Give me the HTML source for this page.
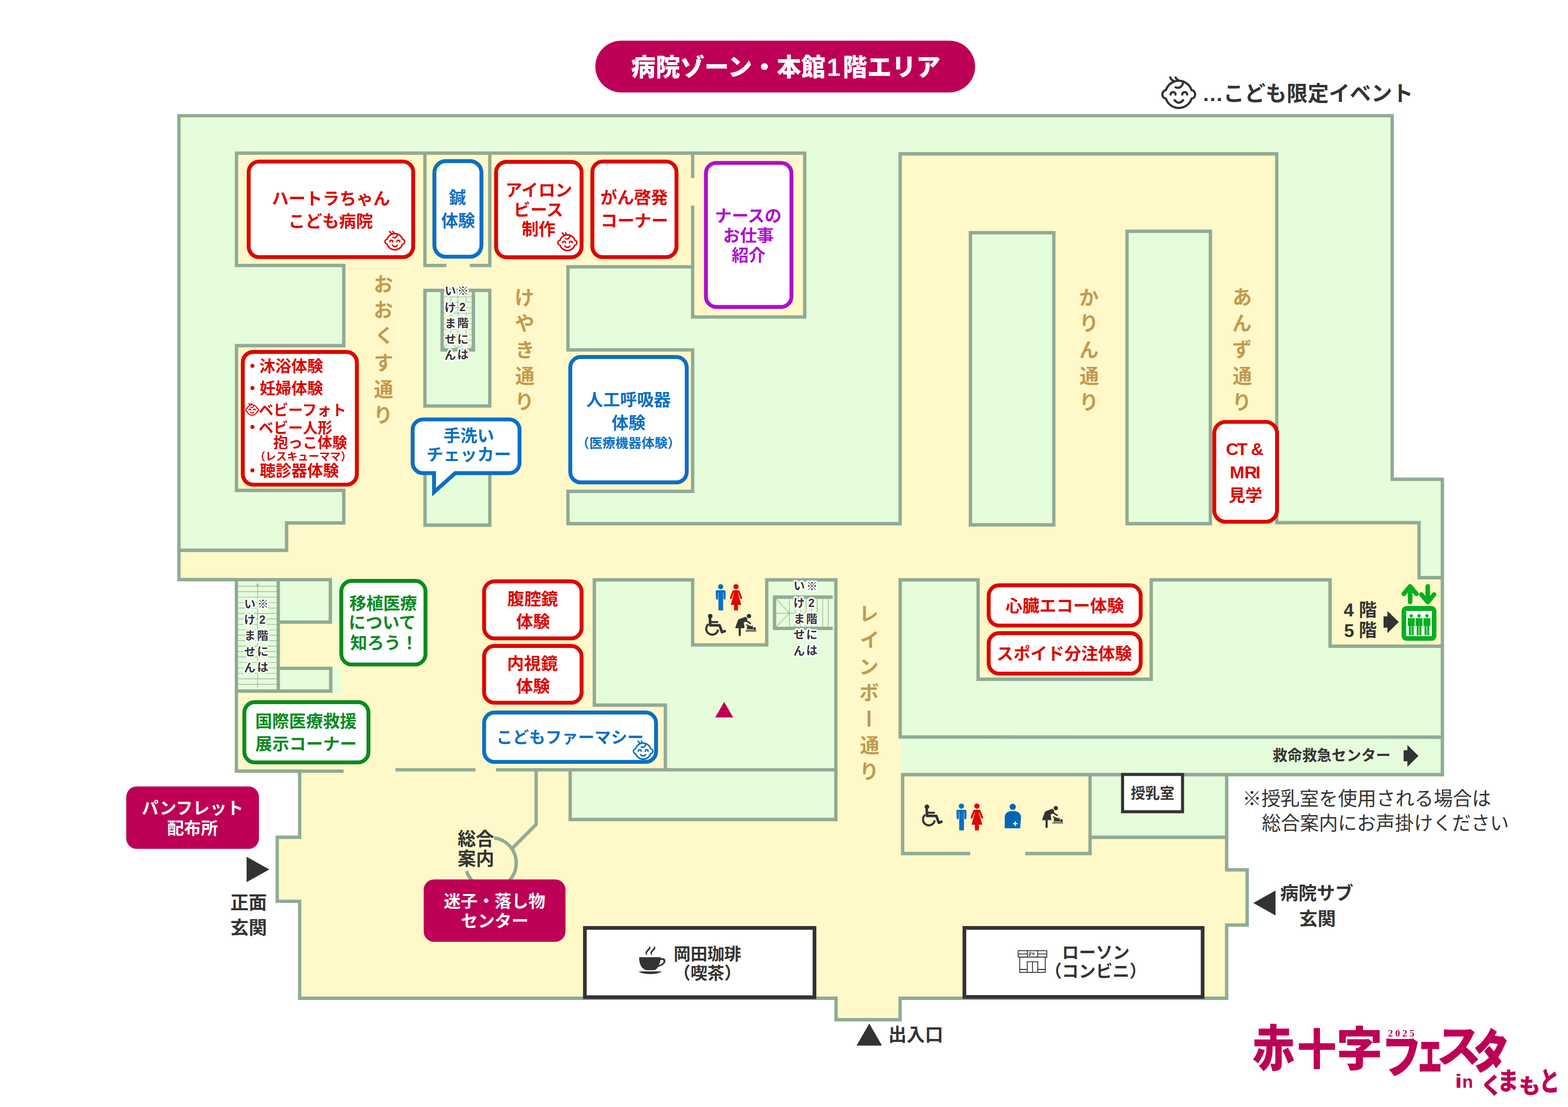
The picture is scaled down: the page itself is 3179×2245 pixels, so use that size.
<!DOCTYPE html>
<html lang="ja"><head><meta charset="utf-8"><title>病院ゾーン・本館1階エリア</title>
<style>html,body{margin:0;padding:0;background:#fff}body{width:3179px;height:2245px;position:relative;overflow:hidden;font-family:"Liberation Sans",sans-serif}
svg{position:absolute;left:0;top:0}
svg{font-family:"Liberation Sans","Noto Sans CJK JP",sans-serif;font-weight:bold}
.t{position:absolute;margin:0;white-space:nowrap;color:transparent;font-weight:bold;line-height:1;transform-origin:0 0}
.v{writing-mode:vertical-rl}
</style></head><body>
<svg width="3179" height="2245" viewBox="0 0 3179 2245">
<g shape-rendering="crispEdges">
<polygon points="362.8,234.7 2822.5,234.7 2822.5,972 2924.3,972 2924.3,1571 2487,1571 2487,1764 2528.5,1764 2528.5,1876 2487,1876 2487,2024.5 1825,2024.5 1825,2068 1695,2068 1695,2024.5 607.5,2024.5 607.5,1827.8 562,1827.8 562,1698 607.5,1698 607.5,1563.9 479.3,1563.9 479.3,1175.5 362.8,1175.5" fill="#e6fddb"/>
<rect x="479.5" y="310.6" width="924.8" height="230.4" fill="#fff8c8"/>
<rect x="1404.3" y="310.6" width="227.2" height="332.2" fill="#fff8c8"/>
<rect x="697" y="538" width="454.5" height="638" fill="#fff8c8"/>
<rect x="479.5" y="701" width="217.5" height="293.5" fill="#fff8c8"/>
<rect x="1151.5" y="709.7" width="252.8" height="286.8" fill="#fff8c8"/>
<rect x="362.8" y="1059.5" width="2514.2" height="116.5" fill="#fff8c8"/>
<rect x="1825" y="312" width="763.5" height="750" fill="#fff8c8"/>
<rect x="2697" y="1171.5" width="227.3" height="139" fill="#fff8c8"/>
<rect x="479.3" y="1175.5" width="725.7" height="388" fill="#fff8c8"/>
<rect x="1205" y="1430" width="144" height="131" fill="#fff8c8"/>
<rect x="607.5" y="1561" width="1879.5" height="463.5" fill="#fff8c8"/>
<rect x="562" y="1698" width="47" height="129.8" fill="#fff8c8"/>
<rect x="2487" y="1764" width="41.5" height="112" fill="#fff8c8"/>
<rect x="1695" y="2024.5" width="130" height="43.5" fill="#fff8c8"/>
<rect x="1695" y="1176" width="130.5" height="424" fill="#fff8c8"/>
<rect x="1404.3" y="1175.5" width="150.2" height="132.3" fill="#fff8c8"/>
<rect x="1983" y="1176" width="351" height="201.5" fill="#fff8c8"/>
<rect x="861.5" y="588.8" width="131.5" height="234.6" fill="#e6fddb"/>
<rect x="861.7" y="930" width="131.3" height="135" fill="#e6fddb"/>
<rect x="362.8" y="1059.5" width="218.2" height="56.5" fill="#e6fddb"/>
<rect x="1151.5" y="996.5" width="673.5" height="65.5" fill="#e6fddb"/>
<rect x="1967.5" y="472" width="169" height="592.5" fill="#e6fddb"/>
<rect x="2285" y="469" width="169" height="593" fill="#e6fddb"/>
<rect x="479.3" y="1175.5" width="190.7" height="86.2" fill="#e6fddb"/>
<rect x="479.3" y="1261.7" width="84.9" height="139.8" fill="#e6fddb"/>
<rect x="564.2" y="1355.3" width="106.3" height="46.2" fill="#e6fddb"/>
<rect x="670" y="1172.5" width="21.5" height="89" fill="#e6fddb"/>
<rect x="670" y="1355.5" width="21.5" height="49.5" fill="#e6fddb"/>
<rect x="1156" y="1561" width="539" height="101" fill="#e6fddb"/>
<rect x="2210" y="1571" width="277" height="127" fill="#e6fddb"/>
<rect x="1825.5" y="1498" width="661.5" height="73" fill="#e6fddb"/>
</g>
<g fill="none" stroke="#90ab95" stroke-width="6.8" stroke-linejoin="miter" stroke-linecap="butt">
<polygon points="362.8,234.7 2822.5,234.7 2822.5,972 2924.3,972 2924.3,1571 2487,1571 2487,1764 2528.5,1764 2528.5,1876 2487,1876 2487,2024.5 1825,2024.5 1825,2068 1695,2068 1695,2024.5 607.5,2024.5 607.5,1827.8 562,1827.8 562,1698 607.5,1698 607.5,1563.9 479.3,1563.9 479.3,1175.5 362.8,1175.5"/>
<polyline points="1404.3,361 1404.3,310.6 479.5,310.6 479.5,538.3 697,538.3 697,701 479.5,701 479.5,994.5 697,994.5 697,1060.5 581,1060.5 581,1116 362.8,1116"/>
<polyline points="1404.3,310.6 1631.5,310.6 1631.5,642.8 1404.3,642.8 1404.3,417"/>
<polyline points="861.5,310.6 861.5,538.3 905,538.3"/>
<polyline points="952.5,538.3 993,538.3 993,310.6"/>
<polygon points="861.5,588.8 993,588.8 993,823.4 861.5,823.4"/>
<polyline points="896.4,588.8 896.4,709.5 959.8,709.5 959.8,588.8"/>
<polyline points="861.7,940 861.7,1065 993,1065 993,940"/>
<polyline points="1404.3,541.1 1151.5,541.1 1151.5,709.7 1404.3,709.7 1404.3,996.5 1151.5,996.5 1151.5,1062 1825,1062 1825,312 2588.5,312 2588.5,1060 2877,1060 2877,1171.5 2924.3,1171.5"/>
<polygon points="1967.5,472 2136.5,472 2136.5,1064.5 1967.5,1064.5"/>
<polygon points="2285,469 2454,469 2454,1062 2285,1062"/>
<polyline points="479.3,1175.7 669.8,1175.7 669.8,1261.7 564.2,1261.7"/>
<polyline points="564.2,1175.7 564.2,1401.5"/>
<polyline points="564.2,1355.3 670.5,1355.3 670.5,1401.5 479.3,1401.5"/>
<polyline points="479.3,1563.9 696.7,1563.9"/>
<polyline points="801.8,1561.2 964,1561.2"/>
<polyline points="1005.6,1561.2 1156,1561.2"/>
<polyline points="1087,1561.2 1087,1672 1038.5,1720.5"/>
<polyline points="1349,1561.2 1349,1430 1205,1430 1205,1176 1404.3,1176 1404.3,1307.8 1554.5,1307.8 1554.5,1176 1694.7,1176 1694.7,1662 1156,1662 1156,1561.2 1694.7,1561.2"/>
<polyline points="1688.3,1211 1570.3,1211 1570.3,1274.3 1688.3,1274.3"/>
<polyline points="2924.3,1495 1825,1494.7 1825,1176 1983,1176 1983,1377.5 2334,1377.5 2334,1176 2696.6,1176 2696.6,1310.5 2924.3,1310.5"/>
<polyline points="1967,1731 1830,1731 1830,1571 2490,1571"/>
<polyline points="2078.5,1731 2210,1731 2210,1571"/>
<polyline points="2210,1698 2487,1698"/>
<path d="M1001.75,1699.2 A51.7,51.7 0 1 1 945.8,1766.5"/>
</g>
<g fill="none" stroke="#90ab95" stroke-width="1.15">
<path d="M482.5,1188.9 H561 M482.5,1199.9 H561 M482.5,1211 H561 M482.5,1222 H561 M482.5,1233.1 H561 M482.5,1244.1 H561 M482.5,1255.1 H561 M482.5,1266.2 H561 M482.5,1277.2 H561 M482.5,1288.3 H561 M482.5,1299.3 H561 M482.5,1310.3 H561 M482.5,1321.4 H561 M482.5,1332.4 H561 M482.5,1343.5 H561 M482.5,1354.5 H561 M482.5,1365.5 H561 M482.5,1376.6 H561 M482.5,1387.6 H561 M522.4,1394.5 V1184 M519.2,1188.5 L522.4,1183.5 L525.6,1188.5 M899.4,602 H957.1 M899.4,613 H957.1 M899.4,624 H957.1 M899.4,635 H957.1 M899.4,646 H957.1 M899.4,657 H957.1 M899.4,668 H957.1 M899.4,679 H957.1 M899.4,690 H957.1 M928.4,592 V706 M914.1,602 V613 M944.8,602 V613 M914.1,635 V646 M944.8,635 V646 M914.1,668 V679 M944.8,668 V679 M899.4,705.8 L906.5,697.5 M957.1,705.8 L950,697.5 M920.5,697.5 A8,8 0 0 0 936.5,697.5 M1600.5,1214.4 V1271 M1611.7,1214.4 V1271 M1623,1214.4 V1271 M1634.2,1214.4 V1271 M1645.5,1214.4 V1271 M1656.7,1214.4 V1271 M1667.9,1214.4 V1271 M1679.2,1214.4 V1271 M1573.7,1243.6 H1660 M1573.7,1214.4 L1600.5,1243.6 L1573.7,1271"/>
</g>
<rect x="504.2" y="327.6" width="333.5" height="193.8" rx="21.1" fill="#fff" stroke="#dc0500" stroke-width="7.9"/>
<rect x="880.7" y="326.8" width="95.4" height="193.8" rx="23.1" fill="#fff" stroke="#0a6fc5" stroke-width="7.9"/>
<rect x="1005.8" y="328.2" width="173.3" height="193.5" rx="21.1" fill="#fff" stroke="#dc0500" stroke-width="7.9"/>
<rect x="1201" y="327.6" width="170.5" height="193.8" rx="21.1" fill="#fff" stroke="#dc0500" stroke-width="7.9"/>
<rect x="1431.2" y="330.4" width="173.4" height="292.1" rx="21.1" fill="#fff" stroke="#ae0dcf" stroke-width="7.9"/>
<rect x="492.3" y="713.7" width="231.2" height="269.2" rx="21.1" fill="#fff" stroke="#dc0500" stroke-width="7.9"/>
<rect x="1156.2" y="724" width="236.1" height="254.3" rx="21.1" fill="#fff" stroke="#0a6fc5" stroke-width="7.9"/>
<rect x="2461.8" y="855.6" width="127.3" height="202.5" rx="23.1" fill="#fff" stroke="#dc0500" stroke-width="7.9"/>
<rect x="2004.5" y="1187" width="308.1" height="81.6" rx="21.1" fill="#fff" stroke="#dc0500" stroke-width="7.9"/>
<rect x="2004.5" y="1284" width="308.1" height="82.1" rx="21.1" fill="#fff" stroke="#dc0500" stroke-width="7.9"/>
<rect x="692" y="1178" width="170.6" height="169.6" rx="21.1" fill="#fff" stroke="#0b8a1f" stroke-width="7.9"/>
<rect x="981.5" y="1179" width="197.6" height="115.6" rx="21.1" fill="#fff" stroke="#dc0500" stroke-width="7.9"/>
<rect x="981.5" y="1310" width="197.6" height="115.1" rx="21.1" fill="#fff" stroke="#dc0500" stroke-width="7.9"/>
<rect x="981.5" y="1445" width="348.6" height="100.1" rx="21.1" fill="#fff" stroke="#0a6fc5" stroke-width="7.9"/>
<rect x="495.4" y="1424" width="251.6" height="122.1" rx="21.1" fill="#fff" stroke="#0b8a1f" stroke-width="7.9"/>
<path d="M857.6,850.6 H1032.3 A21,21 0 0 1 1053.3,871.6 V938.5 A21,21 0 0 1 1032.3,959.5 H922.9 L880,997.9 V959.5 H857.6 A21,21 0 0 1 836.6,938.5 V871.6 A21,21 0 0 1 857.6,850.6 Z" fill="#fff" stroke="#0a6fc5" stroke-width="7.9" stroke-linejoin="miter"/>
<rect x="1207" y="82.5" width="770" height="105" rx="52.5" fill="#bd0055"/>
<rect x="256" y="1595" width="269" height="126.5" rx="21" fill="#bd0055"/>
<rect x="859" y="1783.5" width="287.5" height="126.5" rx="21" fill="#bd0055"/>
<rect x="1185.8" y="1881.8" width="465.5" height="140.5" fill="#fff" stroke="#333333" stroke-width="7.5"/>
<rect x="1955.2" y="1881.8" width="483" height="140" fill="#fff" stroke="#333333" stroke-width="7.5"/>
<rect x="2275.9" y="1570.6" width="121.6" height="75.6" fill="#fff" stroke="#333333" stroke-width="6.2"/>
<path transform="translate(2353.9,154.7) scale(1.0000)" d="M9.96,28.05 A27.3,27.3 0 0 1 61.9,28.05 A7.9,8.7 0 0 1 61.9,45.4 A27.3,27.3 0 0 1 9.96,45.4 A7.9,8.7 0 0 1 9.96,28.05 Z M44.6,11.3 C44.3,19.7 38,26 29.6,22.3 M18.6,2.4 Q20.7,7.6 26.5,10 M29.6,2.4 Q31.2,7.1 37,8.9 M19.4,37 A5,5 0 0 1 29.4,37 M43,37 A5,5 0 0 1 53,37 M27.5,48.5 Q36.2,58.5 44.8,48.5" fill="none" stroke="#333333" stroke-width="4.5" stroke-linecap="round" stroke-linejoin="round"/>
<path transform="translate(779,468.2) scale(0.5964)" d="M9.96,28.05 A27.3,27.3 0 0 1 61.9,28.05 A7.9,8.7 0 0 1 61.9,45.4 A27.3,27.3 0 0 1 9.96,45.4 A7.9,8.7 0 0 1 9.96,28.05 Z M44.6,11.3 C44.3,19.7 38,26 29.6,22.3 M18.6,2.4 Q20.7,7.6 26.5,10 M29.6,2.4 Q31.2,7.1 37,8.9 M19.4,37 A5,5 0 0 1 29.4,37 M43,37 A5,5 0 0 1 53,37 M27.5,48.5 Q36.2,58.5 44.8,48.5" fill="none" stroke="#dc0500" stroke-width="5" stroke-linecap="round" stroke-linejoin="round"/>
<path transform="translate(1129.6,471) scale(0.5770)" d="M9.96,28.05 A27.3,27.3 0 0 1 61.9,28.05 A7.9,8.7 0 0 1 61.9,45.4 A27.3,27.3 0 0 1 9.96,45.4 A7.9,8.7 0 0 1 9.96,28.05 Z M44.6,11.3 C44.3,19.7 38,26 29.6,22.3 M18.6,2.4 Q20.7,7.6 26.5,10 M29.6,2.4 Q31.2,7.1 37,8.9 M19.4,37 A5,5 0 0 1 29.4,37 M43,37 A5,5 0 0 1 53,37 M27.5,48.5 Q36.2,58.5 44.8,48.5" fill="none" stroke="#dc0500" stroke-width="5.2" stroke-linecap="round" stroke-linejoin="round"/>
<path transform="translate(497.5,817.5) scale(0.3814)" d="M9.96,28.05 A27.3,27.3 0 0 1 61.9,28.05 A7.9,8.7 0 0 1 61.9,45.4 A27.3,27.3 0 0 1 9.96,45.4 A7.9,8.7 0 0 1 9.96,28.05 Z M44.6,11.3 C44.3,19.7 38,26 29.6,22.3 M18.6,2.4 Q20.7,7.6 26.5,10 M29.6,2.4 Q31.2,7.1 37,8.9 M19.4,37 A5,5 0 0 1 29.4,37 M43,37 A5,5 0 0 1 53,37 M27.5,48.5 Q36.2,58.5 44.8,48.5" fill="none" stroke="#dc0500" stroke-width="5.8" stroke-linecap="round" stroke-linejoin="round"/>
<path transform="translate(1282.7,1501.7) scale(0.5895)" d="M9.96,28.05 A27.3,27.3 0 0 1 61.9,28.05 A7.9,8.7 0 0 1 61.9,45.4 A27.3,27.3 0 0 1 9.96,45.4 A7.9,8.7 0 0 1 9.96,28.05 Z M44.6,11.3 C44.3,19.7 38,26 29.6,22.3 M18.6,2.4 Q20.7,7.6 26.5,10 M29.6,2.4 Q31.2,7.1 37,8.9 M19.4,37 A5,5 0 0 1 29.4,37 M43,37 A5,5 0 0 1 53,37 M27.5,48.5 Q36.2,58.5 44.8,48.5" fill="none" stroke="#0a6fc5" stroke-width="5.1" stroke-linecap="round" stroke-linejoin="round"/>
<polygon points="500,1737.5 546,1763.2 500,1789" fill="#333333"/>
<polygon points="2586,1806 2541,1831.2 2586,1856.5" fill="#333333"/>
<polygon points="1762.4,2075.7 1788.2,2120.6 1736.6,2120.6" fill="#333333"/>
<polygon points="1468.2,1423.5 1486.5,1455 1450,1455" fill="#bd0055"/>
<polygon points="2805,1250 2812.9,1250 2812.9,1239 2835.9,1261.5 2812.9,1283.9 2812.9,1273 2805,1273" fill="#333333"/>
<polygon points="2845.7,1521.6 2853.4,1521.6 2853.4,1510.8 2875.8,1533 2853.4,1555.3 2853.4,1543.8 2845.7,1543.8" fill="#333333"/>
<g transform="translate(1461,1189.8) scale(1.0)" fill="#0a6fc5"><circle r="5.3"/><path d="M-10,10.2 a3,3 0 0 1 3,-3 h14 a3,3 0 0 1 3,3 v14 a2.1,2.1 0 0 1 -4.2,0 v-12.5 h-0.7 v35.4 a1.2,1.2 0 0 1 -1.2,1.2 h-3.2 a0.6,0.6 0 0 1 -0.35,-0.2 a0.6,0.6 0 0 1 -0.35,0.2 h-3.2 a1.2,1.2 0 0 1 -1.2,-1.2 v-35.4 h-0.7 v12.5 a2.1,2.1 0 0 1 -4.2,0 z"/></g>
<g transform="translate(1492.2,1189.8) scale(1.0)" fill="#dc0500"><circle r="5.3"/><path d="M-4.6,7.2 h9.2 a3,3 0 0 1 2.8,2 l5,13 a2,2 0 0 1 -3.8,1.4 l-4.3,-11.3 h-0.6 l7,24.7 h-6.7 v10.3 a1,1 0 0 1 -1,1 h-6 a1,1 0 0 1 -1,-1 v-10.3 h-6.7 l7,-24.7 h-0.6 l-4.3,11.3 a2,2 0 0 1 -3.8,-1.4 l5,-13 a3,3 0 0 1 2.8,-2 z"/></g>
<g transform="translate(1439.9,1249.6)" fill="none" stroke="#333333" stroke-linecap="round" stroke-linejoin="round"><circle r="4.7" fill="#333333" stroke="none"/><path d="M-0.5,3 L0,18.5 H19 L24,32.5 L29.5,30.3" stroke-width="5.2"/><path d="M0.5,12 H14.5" stroke-width="4"/><path d="M-4.6,17.2 A12,12 0 1 0 15.5,29" stroke-width="4.2"/></g>
<g transform="translate(1518.5,1249.4)" fill="#333333" stroke="#333333" stroke-linecap="round" stroke-linejoin="round"><circle r="4.4" stroke="none"/><path d="M-6.5,2 L-3.5,5.5 L-4.5,9.5 L-11,13 L-9.5,24 H-27.5 L-21.5,7.5 Z" stroke-width="1"/><path d="M-18.7,24 V38.5" stroke-width="4.2" fill="none"/><path d="M-5.5,9.5 L2.8,15" stroke-width="3" fill="none"/><path d="M-5,17.8 L1,20.6 M6.5,20.5 L7.2,25.5" stroke-width="2.4" fill="none"/><path d="M-3.5,21.5 q4.5,-2.5 8,0 l3.5,4.5 h-11.5 z" stroke-width="1.2"/><circle cx="11.4" cy="25.1" r="2.6" stroke="none"/><path d="M-5.5,28.4 H14 M-6.8,30.6 H14.3" stroke-width="1.3" fill="none"/></g>
<g transform="translate(1949.2,1634.8) scale(1.02)" fill="#0a6fc5"><circle r="5.3"/><path d="M-10,10.2 a3,3 0 0 1 3,-3 h14 a3,3 0 0 1 3,3 v14 a2.1,2.1 0 0 1 -4.2,0 v-12.5 h-0.7 v35.4 a1.2,1.2 0 0 1 -1.2,1.2 h-3.2 a0.6,0.6 0 0 1 -0.35,-0.2 a0.6,0.6 0 0 1 -0.35,0.2 h-3.2 a1.2,1.2 0 0 1 -1.2,-1.2 v-35.4 h-0.7 v12.5 a2.1,2.1 0 0 1 -4.2,0 z"/></g>
<g transform="translate(1980.6,1634.8) scale(1.02)" fill="#dc0500"><circle r="5.3"/><path d="M-4.6,7.2 h9.2 a3,3 0 0 1 2.8,2 l5,13 a2,2 0 0 1 -3.8,1.4 l-4.3,-11.3 h-0.6 l7,24.7 h-6.7 v10.3 a1,1 0 0 1 -1,1 h-6 a1,1 0 0 1 -1,-1 v-10.3 h-6.7 l7,-24.7 h-0.6 l-4.3,11.3 a2,2 0 0 1 -3.8,-1.4 l5,-13 a3,3 0 0 1 2.8,-2 z"/></g>
<g transform="translate(1879.3,1636.2)" fill="none" stroke="#333333" stroke-linecap="round" stroke-linejoin="round"><circle r="4.7" fill="#333333" stroke="none"/><path d="M-0.5,3 L0,18.5 H19 L24,32.5 L29.5,30.3" stroke-width="5.2"/><path d="M0.5,12 H14.5" stroke-width="4"/><path d="M-4.6,17.2 A12,12 0 1 0 15.5,29" stroke-width="4.2"/></g>
<g transform="translate(2140.6,1638.8)" fill="#333333" stroke="#333333" stroke-linecap="round" stroke-linejoin="round"><circle r="4.4" stroke="none"/><path d="M-6.5,2 L-3.5,5.5 L-4.5,9.5 L-11,13 L-9.5,24 H-27.5 L-21.5,7.5 Z" stroke-width="1"/><path d="M-18.7,24 V38.5" stroke-width="4.2" fill="none"/><path d="M-5.5,9.5 L2.8,15" stroke-width="3" fill="none"/><path d="M-5,17.8 L1,20.6 M6.5,20.5 L7.2,25.5" stroke-width="2.4" fill="none"/><path d="M-3.5,21.5 q4.5,-2.5 8,0 l3.5,4.5 h-11.5 z" stroke-width="1.2"/><circle cx="11.4" cy="25.1" r="2.6" stroke="none"/><path d="M-5.5,28.4 H14 M-6.8,30.6 H14.3" stroke-width="1.3" fill="none"/></g>
<g transform="translate(2053.2,1636.2)"><circle r="6.3" fill="#0067b8"/><path d="M-16.2,43.5 L-16.2,22 Q-16.2,8.6 0,8.6 Q16.8,8.6 16.8,22 L15,43.5 Z" fill="#0067b8"/><path d="M5.2,29.5 V38.5 M0.7,34 H9.7" stroke="#fff" stroke-width="2.6" fill="none"/></g>
<g><rect x="2841.6" y="1229" width="70.6" height="70.6" rx="10" fill="#00b01e"/><rect x="2851" y="1239" width="52" height="51" fill="#fff"/>
<circle cx="2861.2" cy="1248.9" r="3.3" fill="#00b01e"/><path d="M2854.1,1254.3 a0.8,0.8 0 0 1 0.8,-0.8 h12.6 a0.8,0.8 0 0 1 0.8,0.8 v15 h-2.3 v18.3 a1,1 0 0 1 -1,1 h-2.2 a1,1 0 0 1 -1,-1 v-18.3 h-1.2 v18.3 a1,1 0 0 1 -1,1 h-2.2 a1,1 0 0 1 -1,-1 v-18.3 h-2.3 z" fill="#00b01e"/>
<circle cx="2877" cy="1248.9" r="3.3" fill="#00b01e"/><path d="M2869.9,1254.3 a0.8,0.8 0 0 1 0.8,-0.8 h12.6 a0.8,0.8 0 0 1 0.8,0.8 v15 h-2.3 v18.3 a1,1 0 0 1 -1,1 h-2.2 a1,1 0 0 1 -1,-1 v-18.3 h-1.2 v18.3 a1,1 0 0 1 -1,1 h-2.2 a1,1 0 0 1 -1,-1 v-18.3 h-2.3 z" fill="#00b01e"/>
<circle cx="2892.9" cy="1248.9" r="3.3" fill="#00b01e"/><path d="M2885.8,1254.3 a0.8,0.8 0 0 1 0.8,-0.8 h12.6 a0.8,0.8 0 0 1 0.8,0.8 v15 h-2.3 v18.3 a1,1 0 0 1 -1,1 h-2.2 a1,1 0 0 1 -1,-1 v-18.3 h-1.2 v18.3 a1,1 0 0 1 -1,1 h-2.2 a1,1 0 0 1 -1,-1 v-18.3 h-2.3 z" fill="#00b01e"/>
<path d="M2858.9,1221 V1189.5 M2846,1204.5 L2858.9,1189 L2871.8,1204.5 M2894.6,1189 V1221 M2881.6,1205.5 L2894.6,1221 L2907.6,1205.5" fill="none" stroke="#00b01e" stroke-width="9.2" stroke-linecap="round" stroke-linejoin="round"/></g>
<g fill="#333333"><path d="M1295.7,1941.3 H1340 v2.2 q9,-1.6 9,5 q0,8.5 -15,12.7 q-4,6.2 -9,6.2 h-15 q-14,-4 -14.3,-26.1 z M1339,1947 q-0.6,5.5 -3,10.5 q9,-3.5 9.2,-8.3 q0,-3 -6.2,-2.2 z" fill-rule="evenodd"/><path d="M1294.6,1970 H1341.7 q-6,5.4 -23.5,5.4 q-17.500,0 -23.6,-5.4 z"/><path d="M1316.300,1917.800 q5.5,5 -1.5,10.500 q-5,4.500 -2.500,9.700 q-7,-5 -0.500,-11.500 q5.500,-4.700 4.500,-8.700 z M1326.300,1917.800 q5.5,5 -1.5,10.500 q-5,4.500 -2.500,9.700 q-7,-5 -0.500,-11.500 q5.500,-4.700 4.500,-8.700 z"/></g>
<g fill="none" stroke="#333333" stroke-width="1.8"><rect x="2064.3" y="1928" width="58" height="13"/><path d="M2064.3,1934.7 H2083 M2103.700,1934.700 H2122.300 M2083,1928 V1941 M2103.700,1928 V1941"/><rect x="2067.4" y="1941" width="51.800" height="31"/><path d="M2082.700,1972 V1950.300 H2104 V1972 M2093.300,1950.300 V1972 M2067.400,1966 H2082.700 M2104,1966 H2119.200"/><path d="M2086.500,1931.500 h3.300 v3 h-3.300 v3 h3.300 M2093,1931.500 v3 h3.300 M2096.300,1931.500 v6" stroke-width="1.400"/></g>
<text fill="#fff" font-size="49.6" font-weight="900" y="154.4"><tspan x="1279.6">病院ゾーン・本館</tspan><tspan x="1676.4">1</tspan><tspan x="1708.6">階エリア</tspan></text>
<text fill="#333333" font-size="42.8" x="2437.3" y="204.5">…こども限定イベント</text>
<g fill="#dc0500" font-size="34.3">
<text x="551" y="414.5">ハートラちゃん</text>
<text x="584.6" y="460.8">こども病院</text>
</g>
<g fill="#0a6fc5" font-size="34.3">
<text x="910.2" y="412.9">鍼</text>
<text x="894.4" y="460">体験</text>
</g>
<g fill="#dc0500" font-size="34.3">
<text x="1024.5" y="397.7">アイロン</text>
<text x="1040.9" y="438.1">ビース</text>
<text x="1057.7" y="477.2">制作</text>
<text x="1216.9" y="413.4">がん啓発</text>
<text x="1217.6" y="460.4">コーナー</text>
</g>
<g fill="#ae0dcf" font-size="34.3">
<text x="1449.2" y="449.6">ナースの</text>
<text x="1466" y="490.1">お仕事</text>
<text x="1483.5" y="529.8">紹介</text>
</g>
<g fill="#c2994f" font-size="39.3">
<text x="757.4 757.4 759.7 757.9 757.9 757.1" y="591 643 695.2 749.9 804.1 856.4">おおくす通り</text>
<text x="1043.4 1043.9 1044.4 1044.4 1043.6" y="618.2 670.2 723.6 777.1 828.9">けやき通り</text>
<text x="2187.9 2187.9 2188 2188.7 2187.9" y="618.1 669.9 723.5 777.1 829.9">かりん通り</text>
<text x="2498.8 2498.2 2498.3 2498.9 2498.1" y="616.6 669.5 722.9 777.1 829.9">あんず通り</text>
<text x="1741.8 1743.4 1741.7 1742.3" y="1259.1 1312.2 1366.6 1419">レインボ</text>
<text transform="translate(1763,1457.5) rotate(90) scale(1,-1)" x="-19.65" y="14.15">ー</text>
<text x="1743.4 1742.6" y="1526.1 1578.9">通り</text>
</g>
<g fill="#333333" stroke="#fff" stroke-width="6.2" stroke-linejoin="round" paint-order="stroke" font-size="23">
<text x="927.2 931.3 926.9 927.1 927" y="598.2 630.9 663.3 695.5 727.1">※2階には</text>
<text x="901.4 901.2 901.7 901.7 901.3" y="598.1 631.6 663.5 695.8 727.7">いけません</text>
<text x="521.4 525.5 521.1 521.3 521.2" y="1232.9 1264.9 1297.2 1329.2 1361.3">※2階には</text>
<text x="494.9 494.7 495.2 495.2 494.8" y="1232.6 1265 1297.1 1329.5 1361.6">いけません</text>
<text x="1634.6 1638.7 1634.3 1634.5 1634.4" y="1197.4 1230.9 1263 1295.2 1327.4">※2階には</text>
<text x="1608.8 1608.6 1609.1 1609.1 1608.7" y="1195.8 1230.8 1263.2 1295.2 1328.1">いけません</text>
</g>
<g fill="#dc0500">
<text x="525.9" y="754.3" font-size="32.3">沐浴体験</text>
<text x="526.4" y="799.1" font-size="32.15">妊婦体験</text>
<text x="524.5" y="841.6" font-size="29.9">ベビーフォト</text>
<text x="524.5" y="878" font-size="29.9">ベビー人形</text>
<text x="554.1" y="907.9" font-size="29.9">抱っこ体験</text>
<text x="516.2" y="933.4" font-size="21.85">（レスキューママ）</text>
<text x="526.6" y="965.7" font-size="32.1">聴診器体験</text>
<text x="495.8" y="754" font-size="32">・</text>
<text x="495.8" y="799" font-size="32">・</text>
<text x="495.8" y="878" font-size="32">・</text>
<text x="495.8" y="965.5" font-size="32">・</text>
</g>
<g fill="#0a6fc5" font-size="34.3">
<text x="898.9" y="896.1">手洗い</text>
<text x="864.5" y="934.4">チェッカー</text>
<text x="1188.4" y="822.5">人工呼吸器</text>
<text x="1239.9" y="869.5">体験</text>
<text x="1168.3" y="908.1" font-size="26.45">（医療機器体験）</text>
</g>
<g fill="#dc0500">
<text x="2485.4 2507.8" y="922.7" font-size="35.25">CT</text>
<text x="2536.3" y="922.8" font-size="35.45">&amp;</text>
<text x="2493.3 2523.1 2545.7" y="970.2" font-size="35.6">MRI</text>
<text x="2490.7" y="1016.8" font-size="34.3">見学</text>
<text x="2038.6" y="1241.2" font-size="34.3">心臓エコー体験</text>
<text x="2020.5" y="1337.8" font-size="34.3">スポイド分注体験</text>
</g>
<g fill="#333333" font-size="36.7">
<text x="2724.3" y="1250.4">4</text>
<text x="2754.7" y="1249.6">階</text>
<text x="2725.1" y="1292.2">5</text>
<text x="2754.7" y="1291.4">階</text>
<text x="2580" y="1542.3" font-size="29.95">救命救急センター</text>
</g>
<g fill="#0b8a1f" font-size="34.3">
<text x="708.4" y="1236">移植医療</text>
<text x="707" y="1275.3">について</text>
<text x="710.2" y="1315.5">知ろう！</text>
</g>
<g fill="#dc0500" font-size="34.3">
<text x="1028.5" y="1227.3">腹腔鏡</text>
<text x="1046.4" y="1273">体験</text>
<text x="1028" y="1358.2">内視鏡</text>
<text x="1046.4" y="1404.3">体験</text>
</g>
<text fill="#0a6fc5" font-size="33.2" x="1006.2" y="1507.1">こどもファーマシー</text>
<g fill="#0b8a1f" font-size="34.3">
<text x="517.5" y="1474.5">国際医療救援</text>
<text x="517.6" y="1521.1">展示コーナー</text>
</g>
<g fill="#fff" font-size="34.3">
<text x="287.3" y="1651.1">パンフレット</text>
<text x="338.8" y="1691.7">配布所</text>
</g>
<g fill="#333333" font-size="37.1">
<text x="927.7" y="1714.6">総合</text>
<text x="927.8" y="1755.2">案内</text>
</g>
<g fill="#fff" font-size="34.3">
<text x="899.8" y="1840.1">迷子・落し物</text>
<text x="934.4" y="1880.2">センター</text>
</g>
<g fill="#333333" font-size="37.1">
<text x="466.9" y="1843.9">正面</text>
<text x="467.1" y="1895.4">玄関</text>
<text x="1801" y="2112.4">出入口</text>
</g>
<g fill="#333333" font-size="34.3">
<text x="1365.7" y="1947.1">岡田珈琲</text>
<text x="1365.7" y="1985.8">（喫茶）</text>
<text x="2153.1" y="1943.5">ローソン</text>
<text x="2118.5" y="1981.9">（コンビニ）</text>
<text x="2292.5" y="1618.9" font-size="29.5">授乳室</text>
</g>
<g fill="#333333" font-weight="normal">
<text x="2518.7" y="1633.2" font-size="38.8">※授乳室を使用される場合は</text>
<text x="2558.3" y="1683.3" font-size="38.55">総合案内にお声掛けください</text>
</g>
<g fill="#333333" font-size="37.1">
<text x="2595.5" y="1825.1">病院サブ</text>
<text x="2634.1" y="1876.7">玄関</text>
</g>
<g fill="#bd0055" font-size="250" font-weight="900">
<text transform="translate(2540.7,2079) scale(0.3413,0.4022)" x="-4" y="206.5">赤</text>
<text transform="translate(2632.9,2087.9) scale(0.3193,0.3499)" x="-9.8" y="206.5">十</text>
<text transform="translate(2713.7,2081) scale(0.3741,0.3832)" x="-11" y="211.5">字</text>
<text transform="translate(2803.2,2109.7) scale(0.3268,0.3817)" x="-7.5" y="175.2">フ</text>
<text transform="translate(2871.9,2123) scale(0.2325,0.4133)" x="-7.5" y="113">ェ</text>
<text transform="translate(2914.5,2090.7) scale(0.3665,0.3560)" x="-7.5" y="178.8">ス</text>
<text stroke="#bd0055" stroke-width="6" stroke-linejoin="round" transform="rotate(8,3015.1,2131.2) translate(2990.1,2088.2) scale(0.2736,0.3914)" x="-7.5" y="204.8">タ</text>
<text transform="translate(2952.2,2176.8) scale(0.2163,0.1559)" x="-12.5" y="190">i</text>
<text transform="translate(2965.5,2187) scale(0.1443,0.1376)" x="-7.5" y="141.2">n</text>
<text transform="translate(3002.2,2180.1) scale(0.1782,0.1877)" x="-2.5" y="201.8">く</text>
<text transform="translate(3037.4,2170.1) scale(0.1723,0.2010)" x="-7.5" y="200">ま</text>
<text transform="translate(3080.5,2182.5) scale(0.1755,0.1745)" x="-7.5" y="204.2">も</text>
<text transform="translate(3122.7,2169.3) scale(0.1659,0.2171)" x="-12.5" y="194.5">と</text>
</g>
<text fill="#bd0055" font-family="'Liberation Serif','Noto Serif CJK SC',serif" font-size="19.5" x="2814.3 2828.8 2843.3 2857.8" y="2102.3">2025</text>
</svg>
<div class="t" style="left:1279.6px;top:110.7px;font-size:49.6px">病院ゾーン・本館1階エリア</div>
<div class="t" style="left:2437.3px;top:166.8px;font-size:42.8px">…こども限定イベント</div>
<div class="t" style="left:551px;top:384.3px;font-size:34.3px">ハートラちゃん</div>
<div class="t" style="left:584.6px;top:430.6px;font-size:34.3px">こども病院</div>
<div class="t" style="left:910.2px;top:382.7px;font-size:34.3px">鍼</div>
<div class="t" style="left:894.4px;top:429.8px;font-size:34.3px">体験</div>
<div class="t" style="left:1024.5px;top:367.5px;font-size:34.3px">アイロン</div>
<div class="t" style="left:1040.9px;top:407.9px;font-size:34.3px">ビース</div>
<div class="t" style="left:1057.7px;top:447px;font-size:34.3px">制作</div>
<div class="t" style="left:1216.9px;top:383.2px;font-size:34.3px">がん啓発</div>
<div class="t" style="left:1217.6px;top:430.2px;font-size:34.3px">コーナー</div>
<div class="t" style="left:1449.2px;top:419.4px;font-size:34.3px">ナースの</div>
<div class="t" style="left:1466px;top:459.9px;font-size:34.3px">お仕事</div>
<div class="t" style="left:1483.5px;top:499.7px;font-size:34.3px">紹介</div>
<div class="t v" style="left:757.9px;top:556.4px;font-size:39.3px;letter-spacing:14px">おおくす通り</div>
<div class="t v" style="left:1044.3px;top:584.1px;font-size:39.3px;letter-spacing:13.5px">けやき通り</div>
<div class="t v" style="left:2188.7px;top:583.4px;font-size:39.3px;letter-spacing:14px">かりん通り</div>
<div class="t v" style="left:2498.8px;top:582.4px;font-size:39.3px;letter-spacing:14.2px">あんず通り</div>
<div class="t v" style="left:1743.3px;top:1225.3px;font-size:39.3px;letter-spacing:14px">レインボー通り</div>
<div class="t v" style="left:927.2px;top:578.4px;font-size:23px;letter-spacing:9.2px">※2階には</div>
<div class="t v" style="left:901.7px;top:579.2px;font-size:23px;letter-spacing:9.1px">いけません</div>
<div class="t v" style="left:521.4px;top:1213.1px;font-size:23px;letter-spacing:9.1px">※2階には</div>
<div class="t v" style="left:495.2px;top:1213.7px;font-size:23px;letter-spacing:9px">いけません</div>
<div class="t v" style="left:1634.6px;top:1177.6px;font-size:23px;letter-spacing:9.5px">※2階には</div>
<div class="t v" style="left:1609.1px;top:1176.9px;font-size:23px;letter-spacing:9.8px">いけません</div>
<div class="t" style="left:525.9px;top:725.9px;font-size:32.3px">沐浴体験</div>
<div class="t" style="left:526.4px;top:770.8px;font-size:32.1px">妊婦体験</div>
<div class="t" style="left:524.5px;top:815.3px;font-size:29.9px">ベビーフォト</div>
<div class="t" style="left:524.5px;top:851.7px;font-size:29.9px">ベビー人形</div>
<div class="t" style="left:554.1px;top:881.6px;font-size:29.9px">抱っこ体験</div>
<div class="t" style="left:516.2px;top:914.1px;font-size:21.9px">（レスキューママ）</div>
<div class="t" style="left:526.6px;top:937.5px;font-size:32.1px">聴診器体験</div>
<div class="t" style="left:495.8px;top:725.9px;font-size:32px">・</div>
<div class="t" style="left:495.8px;top:770.9px;font-size:32px">・</div>
<div class="t" style="left:495.8px;top:849.9px;font-size:32px">・</div>
<div class="t" style="left:495.8px;top:937.4px;font-size:32px">・</div>
<div class="t" style="left:898.9px;top:865.9px;font-size:34.3px">手洗い</div>
<div class="t" style="left:864.5px;top:904.2px;font-size:34.3px">チェッカー</div>
<div class="t" style="left:1188.4px;top:792.3px;font-size:34.3px">人工呼吸器</div>
<div class="t" style="left:1239.9px;top:839.3px;font-size:34.3px">体験</div>
<div class="t" style="left:1168.3px;top:884.8px;font-size:26.4px">（医療機器体験）</div>
<div class="t" style="left:2485.4px;top:891.7px;font-size:35.3px">CT</div>
<div class="t" style="left:2536.3px;top:891.6px;font-size:35.4px">&amp;</div>
<div class="t" style="left:2493.3px;top:938.9px;font-size:35.6px">MRI</div>
<div class="t" style="left:2490.7px;top:986.6px;font-size:34.3px">見学</div>
<div class="t" style="left:2038.6px;top:1211.1px;font-size:34.3px">心臓エコー体験</div>
<div class="t" style="left:2020.5px;top:1307.6px;font-size:34.3px">スポイド分注体験</div>
<div class="t" style="left:2724.3px;top:1218.1px;font-size:36.7px">4</div>
<div class="t" style="left:2754.7px;top:1217.4px;font-size:36.7px">階</div>
<div class="t" style="left:2725.1px;top:1259.9px;font-size:36.7px">5</div>
<div class="t" style="left:2754.7px;top:1259.2px;font-size:36.7px">階</div>
<div class="t" style="left:2580px;top:1515.9px;font-size:29.9px">救命救急センター</div>
<div class="t" style="left:708.4px;top:1205.8px;font-size:34.3px">移植医療</div>
<div class="t" style="left:707px;top:1245.2px;font-size:34.3px">について</div>
<div class="t" style="left:710.2px;top:1285.4px;font-size:34.3px">知ろう！</div>
<div class="t" style="left:1028.5px;top:1197.1px;font-size:34.3px">腹腔鏡</div>
<div class="t" style="left:1046.4px;top:1242.8px;font-size:34.3px">体験</div>
<div class="t" style="left:1028px;top:1328px;font-size:34.3px">内視鏡</div>
<div class="t" style="left:1046.4px;top:1374.1px;font-size:34.3px">体験</div>
<div class="t" style="left:1006.2px;top:1477.9px;font-size:33.2px">こどもファーマシー</div>
<div class="t" style="left:517.5px;top:1444.3px;font-size:34.3px">国際医療救援</div>
<div class="t" style="left:517.6px;top:1490.9px;font-size:34.3px">展示コーナー</div>
<div class="t" style="left:287.3px;top:1620.9px;font-size:34.3px">パンフレット</div>
<div class="t" style="left:338.8px;top:1661.5px;font-size:34.3px">配布所</div>
<div class="t" style="left:927.7px;top:1682px;font-size:37.1px">総合</div>
<div class="t" style="left:927.8px;top:1722.6px;font-size:37.1px">案内</div>
<div class="t" style="left:899.8px;top:1810px;font-size:34.3px">迷子・落し物</div>
<div class="t" style="left:934.4px;top:1850px;font-size:34.3px">センター</div>
<div class="t" style="left:466.9px;top:1811.2px;font-size:37.1px">正面</div>
<div class="t" style="left:467.1px;top:1862.7px;font-size:37.1px">玄関</div>
<div class="t" style="left:1801px;top:2079.8px;font-size:37.1px">出入口</div>
<div class="t" style="left:1365.7px;top:1916.9px;font-size:34.3px">岡田珈琲</div>
<div class="t" style="left:1365.7px;top:1955.6px;font-size:34.3px">（喫茶）</div>
<div class="t" style="left:2153.1px;top:1913.3px;font-size:34.3px">ローソン</div>
<div class="t" style="left:2118.5px;top:1951.7px;font-size:34.3px">（コンビニ）</div>
<div class="t" style="left:2292.5px;top:1593px;font-size:29.5px">授乳室</div>
<div class="t" style="left:2518.7px;top:1599.1px;font-size:38.8px">※授乳室を使用される場合は</div>
<div class="t" style="left:2558.3px;top:1649.4px;font-size:38.6px">総合案内にお声掛けください</div>
<div class="t" style="left:2595.5px;top:1792.5px;font-size:37.1px">病院サブ</div>
<div class="t" style="left:2634.1px;top:1844px;font-size:37.1px">玄関</div>
<div class="t" style="left:2540px;top:2080px;font-size:88px">赤十字フェスタ</div>
<div class="t" style="left:2952px;top:2176px;font-size:40px">in くまもと</div>
<div class="t" style="left:2814px;top:2087px;font-size:19px;letter-spacing:4px">2025</div>
</body></html>
